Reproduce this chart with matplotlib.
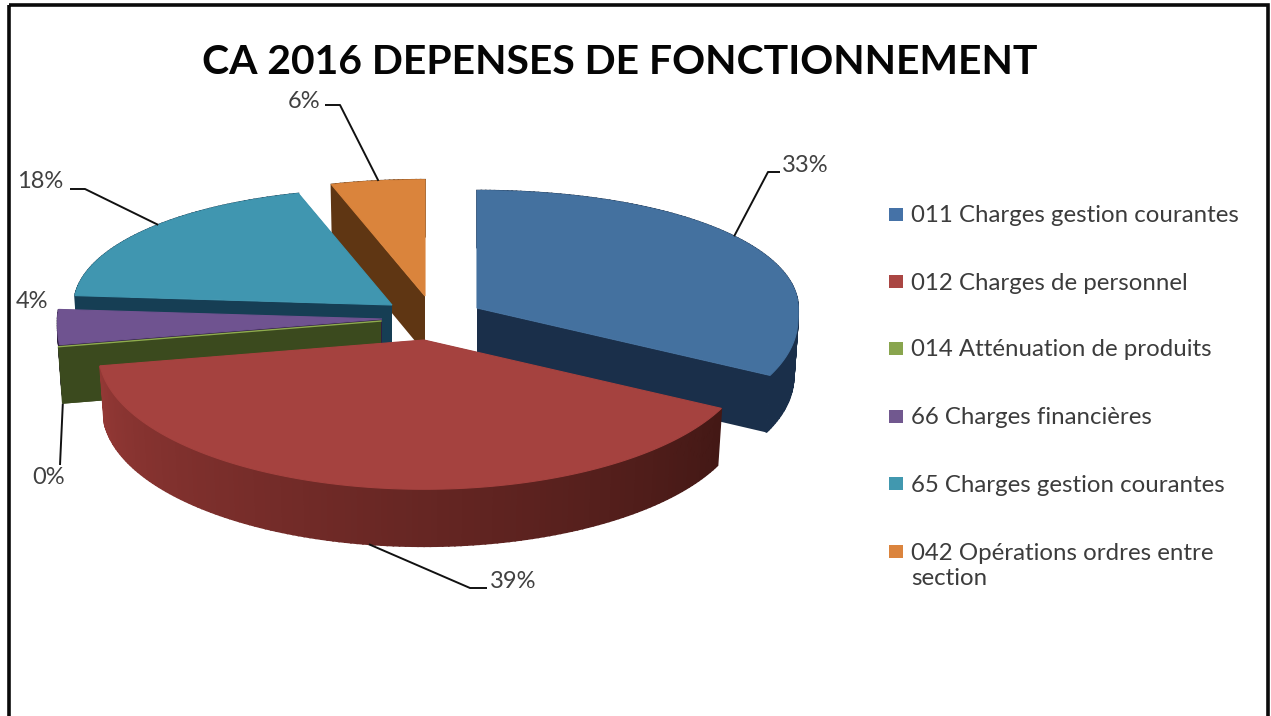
import numpy as np
import matplotlib
matplotlib.use("Agg")
import matplotlib.pyplot as plt
from matplotlib.patches import Polygon, Rectangle
from matplotlib.colors import to_rgb

# ---- data
title = "CA 2016 DEPENSES DE FONCTIONNEMENT"
categories = ["011 Charges gestion courantes", "012 Charges de personnel",
              "014 Atténuation de produits", "66 Charges financières",
              "65 Charges gestion courantes", "042 Opérations ordres entre\nsection"]
values = [33, 39, 0, 4, 18, 6]

# ---- style and layout (figure pixels)
top_colors = ["#44719F", "#A5423F", "#8FAC4E", "#6F5390", "#4096B0", "#DA843C"]
legend_colors = ["#4572A7", "#AA4643", "#89A54E", "#71588F", "#4198AF", "#DB843D"]
wall_light = ["#1A2F4A", "#933835", "#3B4A1E", "#2E2040", "#163E54", "#5F3613"]
wall_dark = ["#1A2F4A", "#431815", "#3B4A1E", "#2E2040", "#163E54", "#5F3613"]
apex_x = [477, 424, 381, 382, 392, 425]
apex_y = [308, 340, 321, 319, 305, 296]
radius_scale = [1.01, 1.025, 1.02, 1.02, 1.0, 1.0]
draw_order = [5, 4, 3, 2, 0, 1]
RX, RY_BACK, RY_FRONT = 318, 150, 133
K_BACK, K_FRONT, SOFT = 0.29, 0.105, 0.1
DEPTH = 57
TAPER = 0.987
label_xy = [(805, 165), (513, 582), (49, 478), (32, 302), (40, 182), (304, 102)]
leader_mid = [(768, 172), (470, 588), (60, 465), None, (85, 189), (340, 105)]
leader_end = [(780, 172), (487, 588), None, None, (70, 189), (325, 105)]
leader_on_wall = [False, True, True, False, False, False]
legend_y = [215, 282, 349, 417, 484, 552]

plt.rcParams["font.family"] = ["Lato", "DejaVu Sans"]
fig = plt.figure(figsize=(12.71, 7.16), dpi=100, facecolor="white")
ax = fig.add_axes([0, 0, 1, 1])
ax.set_xlim(0, 1271)
ax.set_ylim(716, 0)
ax.axis("off")


def project(i, t):
    """Tilted-pie projection for an angle t (radians, clockwise from the top)."""
    u, v = np.sin(t), np.cos(t)
    s = np.where(v > 0, 1 / (1 + K_BACK * v ** 2), 1 + K_FRONT * (np.sqrt(v ** 2 + SOFT ** 2) - SOFT))
    ry = np.where(v > 0, RY_BACK, RY_FRONT)
    r = radius_scale[i]
    return apex_x[i] + RX * r * u * s, apex_y[i] - ry * r * v * s


def lower(i, x, y):
    return apex_x[i] + (x - apex_x[i]) * TAPER, y + DEPTH


edges = np.radians(np.concatenate([[0], np.cumsum(values)]) * 3.6)
mids = (edges[:-1] + edges[1:]) / 2

for i in draw_order:
    a0, a1 = edges[i], edges[i + 1]
    n = max(int((a1 - a0) / np.radians(1.0)), 1) + 1
    ts = np.linspace(a0, a1, n)
    xs, ys = project(i, ts)
    bx, by = lower(i, xs, ys)
    ax0, ay0 = apex_x[i], apex_y[i]
    layer = draw_order.index(i) * 3
    # radial cut faces
    for j, fc in ((0, wall_dark[i]), (-1, wall_light[i])):
        ax.add_patch(Polygon([(ax0, ay0), (xs[j], ys[j]), (bx[j], by[j]), (ax0, ay0 + DEPTH)],
                             closed=True, fc=fc, ec="none", zorder=1 + layer))
    # outer wall, shaded along the rim
    c0, c1 = np.array(to_rgb(wall_dark[i])), np.array(to_rgb(wall_light[i]))
    for k in range(len(ts) - 1):
        f = k / max(len(ts) - 2, 1)
        col = c0 + (c1 - c0) * f
        ax.add_patch(Polygon([(xs[k], ys[k]), (xs[k + 1], ys[k + 1]),
                              (bx[k + 1], by[k + 1]), (bx[k], by[k])],
                             closed=True, fc=col, ec=col, lw=1.2, zorder=2 + layer))
    # top surface
    if values[i] > 0:
        ax.add_patch(Polygon(np.column_stack([np.r_[ax0, xs], np.r_[ay0, ys]]), closed=True,
                             fc=top_colors[i], ec=top_colors[i], lw=0.8, zorder=3 + layer))
    else:
        ax.plot([ax0, xs[0]], [ay0, ys[0]], color=top_colors[i], lw=1.0, zorder=3 + layer)

# title, frame
ax.text(620, 63, title, fontsize=29.4, fontweight="bold", color="#050505",
        ha="center", va="center", zorder=50)
ax.add_patch(Rectangle((9, 5), 1259, 720, fc="none", ec="#0a0a0a", lw=2.6, zorder=60))

# percentage labels and leaders
for i, v in enumerate(values):
    ax.text(*label_xy[i], f"{v}%", fontsize=17, color="#404040", ha="center", va="center", zorder=50)
    if leader_mid[i] is None:
        continue
    x, y = project(i, mids[i])
    if leader_on_wall[i]:
        x, y = lower(i, x, y)
    pts = [(float(x), float(y)), leader_mid[i]]
    if leader_end[i] is not None:
        pts.append(leader_end[i])
    ax.plot(*zip(*pts), color="#111111", lw=1.4, zorder=40, solid_capstyle="butt")

# legend
for i, cat in enumerate(categories):
    ax.add_patch(Rectangle((889, legend_y[i] - 7), 14, 13, fc=legend_colors[i], ec="none", zorder=50))
    ax.text(911, legend_y[i] + 1 + (13 if "\n" in cat else 0), cat, fontsize=17.3, color="#3c3c3c",
            ha="left", va="center", linespacing=1.2, zorder=50)

fig.savefig("out.png", dpi=100, facecolor="white")
